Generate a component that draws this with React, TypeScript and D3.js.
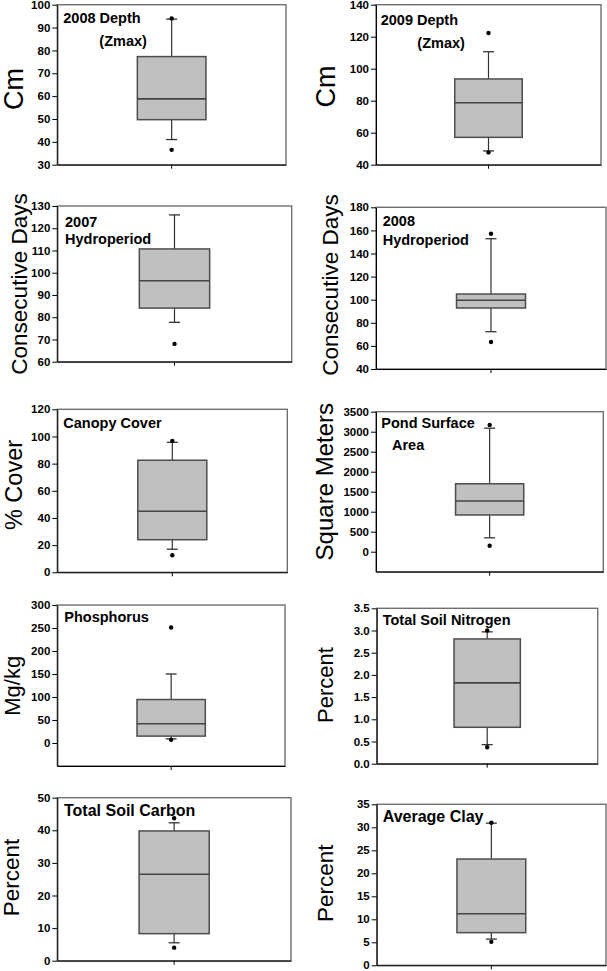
import React, { useEffect, useRef } from 'react';
import * as d3 from 'd3';

const FONT = "'Liberation Sans', Arial, Helvetica, sans-serif";

// chart content
const titles = [
  ['2008 Depth', '(Zmax)'],
  ['2009 Depth', '(Zmax)'],
  ['2007', 'Hydroperiod'],
  ['2008', 'Hydroperiod'],
  ['Canopy Cover'],
  ['Pond Surface', 'Area'],
  ['Phosphorus'],
  ['Total Soil Nitrogen'],
  ['Total Soil Carbon'],
  ['Average Clay'],
];
const yLabels = ['Cm', 'Cm', 'Consecutive Days', 'Consecutive Days', '% Cover', 'Square Meters', 'Mg/kg', 'Percent', 'Percent', 'Percent'];
const yDomains = [[30, 100], [40, 140], [60, 130], [40, 180], [0, 120], [-500, 3500], [-50, 300], [0, 3.5], [0, 50], [0, 35]];
const yTicks = [
  [30, 40, 50, 60, 70, 80, 90, 100],
  [40, 60, 80, 100, 120, 140],
  [60, 70, 80, 90, 100, 110, 120, 130],
  [40, 60, 80, 100, 120, 140, 160, 180],
  [0, 20, 40, 60, 80, 100, 120],
  [0, 500, 1000, 1500, 2000, 2500, 3000, 3500],
  [0, 50, 100, 150, 200, 250, 300],
  [0, 0.5, 1.0, 1.5, 2.0, 2.5, 3.0, 3.5],
  [0, 10, 20, 30, 40, 50],
  [0, 5, 10, 15, 20, 25, 30, 35],
];

// box statistics (10th, 25th, 50th, 75th, 90th percentiles, extremes)
const p10Values = [41, 48.6, 77.7, 72.3, 17, 347, 9, 0.43, 5.5, 5.7];
const q1Values = [49.7, 57.1, 84.1, 92.8, 24, 918, 15, 0.82, 8.3, 7.1];
const medianValues = [58.8, 78.7, 96.4, 99.5, 45, 1266, 42, 1.82, 26.5, 11.2];
const q3Values = [77.3, 93.6, 110.7, 104.9, 82.5, 1698, 94.5, 2.81, 39.8, 23.1];
const p90Values = [93.7, 110.6, 126, 152.8, 95.7, 3088, 150, 2.97, 42.3, 30.9];
const minValues = [36.5, 47.7, 68, 63.4, 12.5, 149, 7, 0.37, 4, 5.1];
const maxValues = [94, 122.3, null, 157.1, 96.7, 3170, 251, 3.0, 43.7, 31];

// panel placement on the page
const layout = [
  { x: 57.3, y: 4.7, w: 228.7, h: 160, lb: 22.7, lc: 89, ls: 27, ts: 14.5, tl: [[6, 18.6], [42, 41.5]] },
  { x: 376, y: 4.7, w: 225, h: 160, lb: 335, lc: 86.5, ls: 27, ts: 14.5, tl: [[4.7, 20.3], [41.3, 43.6]] },
  { x: 57.3, y: 206, w: 234.4, h: 155.7, lb: 27, lc: 284, ls: 22.5, ts: 14.5, tl: [[7.7, 20.7], [7.7, 38]] },
  { x: 376, y: 207.3, w: 230, h: 161.7, lb: 338, lc: 285, ls: 22.5, ts: 14.5, tl: [[6.7, 18.7], [6.7, 37.7]] },
  { x: 57.3, y: 409.3, w: 230, h: 163, lb: 21.7, lc: 485, ls: 23.5, ts: 14.5, tl: [[6, 19]] },
  { x: 376, y: 411.7, w: 227.3, h: 160, lb: 333, lc: 481.7, ls: 24, ts: 14.5, tl: [[5.3, 16], [16, 38.3]] },
  { x: 57.3, y: 605, w: 227.7, h: 161, lb: 20, lc: 685.8, ls: 22, ts: 14.5, tl: [[7, 16.7]] },
  { x: 376.7, y: 608.3, w: 221, h: 155.4, lb: 333, lc: 685, ls: 22, ts: 14.5, tl: [[6, 16.7]] },
  { x: 57.3, y: 797.7, w: 233.7, h: 163, lb: 19, lc: 877.5, ls: 22.5, ts: 16, tl: [[6.7, 18]] },
  { x: 376.7, y: 804.3, w: 229.3, h: 161, lb: 333, lc: 883.3, ls: 22.5, ts: 16, tl: [[6, 17.4]] },
];

const App = () => {
  const ref = useRef<SVGSVGElement>(null);

  useEffect(() => {
    const svg = d3.select(ref.current);
    svg.selectAll('*').remove();

    layout.forEach((L, i) => {
      const g = svg.append('g');
      const y = d3.scaleLinear().domain(yDomains[i]).range([L.y + L.h, L.y]);
      const x = d3.scaleBand().domain(['']).range([L.x, L.x + L.w]).paddingInner(0.7).paddingOuter(0.35);
      const cx = x('')! + x.bandwidth() / 2;
      const fmt = i === 7 ? d3.format('.1f') : d3.format('d');

      // frame
      g.append('rect')
        .attr('x', L.x).attr('y', L.y).attr('width', L.w).attr('height', L.h)
        .attr('fill', 'none').attr('stroke', '#707070').attr('stroke-width', 1.4);

      // y axis
      const ya = g.append('g')
        .attr('transform', `translate(${L.x},0)`)
        .call(d3.axisLeft(y).tickValues(yTicks[i]).tickSize(5).tickSizeOuter(0).tickPadding(2).tickFormat(fmt as any));
      ya.select('.domain').attr('stroke', '#000');
      ya.selectAll('line').attr('stroke', '#000');
      ya.selectAll('text')
        .attr('font-family', FONT).attr('font-size', 11.5).attr('font-weight', 'bold').attr('fill', '#000');

      // x axis with single centre tick
      const xa = g.append('g')
        .attr('transform', `translate(0,${L.y + L.h})`)
        .call(d3.axisBottom(x).tickSize(4).tickSizeOuter(0).tickFormat(() => ''));
      xa.select('.domain').attr('stroke', '#000');
      xa.selectAll('line').attr('stroke', '#000');

      // whiskers
      const wStroke = '#333';
      g.append('line').attr('x1', cx).attr('x2', cx).attr('y1', y(q3Values[i])).attr('y2', y(p90Values[i]))
        .attr('stroke', wStroke).attr('stroke-width', 1.2);
      g.append('line').attr('x1', cx).attr('x2', cx).attr('y1', y(q1Values[i])).attr('y2', y(p10Values[i]))
        .attr('stroke', wStroke).attr('stroke-width', 1.2);
      [p10Values[i], p90Values[i]].forEach((v) => {
        g.append('line').attr('x1', cx - 5.5).attr('x2', cx + 5.5).attr('y1', y(v)).attr('y2', y(v))
          .attr('stroke', wStroke).attr('stroke-width', 1.3);
      });

      // box
      g.append('rect')
        .attr('x', x('')!).attr('width', x.bandwidth())
        .attr('y', y(q3Values[i])).attr('height', y(q1Values[i]) - y(q3Values[i]))
        .attr('fill', '#c0c0c0').attr('stroke', '#4d4d4d').attr('stroke-width', 1.5);
      g.append('line')
        .attr('x1', x('')!).attr('x2', x('')! + x.bandwidth())
        .attr('y1', y(medianValues[i])).attr('y2', y(medianValues[i]))
        .attr('stroke', '#444').attr('stroke-width', 1.6);

      // extremes
      [minValues[i], maxValues[i]].filter((v) => v !== null).forEach((v) => {
        g.append('circle').attr('cx', cx).attr('cy', y(v as number)).attr('r', 2.2).attr('fill', '#000');
      });

      // panel title
      titles[i].forEach((t, j) => {
        g.append('text')
          .attr('x', L.x + L.tl[j][0]).attr('y', L.y + L.tl[j][1])
          .attr('font-family', FONT).attr('font-size', L.ts).attr('font-weight', 'bold')
          .text(t);
      });

      // y label
      g.append('text')
        .attr('transform', `translate(${L.lb},${L.lc}) rotate(-90)`)
        .attr('text-anchor', 'middle')
        .attr('font-family', FONT).attr('font-size', L.ls)
        .text(yLabels[i]);
    });
  }, []);

  return (
    <svg ref={ref} width={607} height={971}
      style={{ position: 'absolute', left: 0, top: 0, background: '#fff' }} />
  );
};

export default App;
